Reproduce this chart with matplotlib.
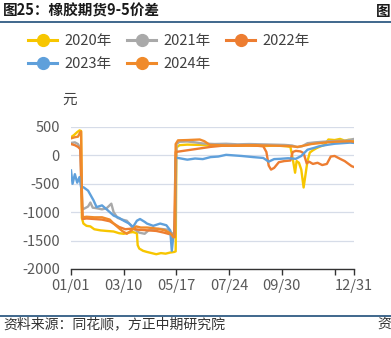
import matplotlib
matplotlib.use("Agg")
import matplotlib.pyplot as plt
from matplotlib.lines import Line2D

plt.rcParams["font.family"] = ["Noto Sans CJK SC", "DejaVu Sans"]
plt.rcParams["axes.unicode_minus"] = False

# ── 9-5 spread by day of year (day, 元) ───────────────────────────────
spread_2020 = [(0, 320), (4, 360), (8, 410), (11, 440), (13, 430), (14, -1100), (16, -1200),
               (20, -1240), (25, -1250), (30, -1300), (38, -1320), (46, -1330), (55, -1340),
               (62, -1370), (68, -1380), (74, -1360), (80, -1350), (85, -1370), (86, -1580),
               (88, -1640), (93, -1680), (98, -1700), (104, -1720), (110, -1740), (116, -1720),
               (122, -1730), (128, -1710), (133, -1700), (135, -1690), (136, 140), (140, 180),
               (150, 190), (166, 185), (180, 175), (205, 170), (230, 175), (250, 165), (265, 175),
               (278, 160), (283, 150), (286, -60), (289, -305), (291, -100), (294, -130),
               (297, -250), (300, -565), (302, -380), (305, -100), (308, 50), (312, 90),
               (317, 130), (322, 160), (327, 185), (332, 280), (340, 270), (347, 290),
               (353, 260), (358, 275), (365, 270)]

spread_2021 = [(0, 220), (5, 230), (9, 200), (12, 130), (14, -700), (15, -950), (18, -930),
               (22, -900), (25, -830), (28, -920), (33, -930), (40, -950), (46, -930),
               (52, -850), (55, -1000), (60, -1100), (66, -1130), (72, -1150), (80, -1280),
               (88, -1360), (95, -1380), (100, -1320), (106, -1300), (113, -1290), (120, -1300),
               (126, -1310), (130, -1370), (134, -1380), (136, 200), (140, 240), (150, 245),
               (160, 230), (170, 210), (185, 200), (200, 205), (215, 195), (230, 200), (245, 195),
               (260, 190), (275, 185), (285, 175), (292, 145), (298, 160), (305, 215), (315, 230),
               (325, 240), (335, 250), (345, 255), (355, 260), (365, 290)]

spread_2022 = [(0, 200), (5, 180), (9, 150), (12, 110), (14, -900), (15, -1120), (20, -1110),
               (30, -1120), (40, -1130), (50, -1160), (55, -1200), (62, -1260), (70, -1300),
               (78, -1290), (88, -1310), (100, -1320), (110, -1330), (120, -1360), (128, -1390),
               (133, -1410), (135, 60), (140, 70), (150, 90), (165, 120), (180, 150), (195, 170),
               (210, 170), (225, 175), (240, 170), (248, 160), (252, 60), (255, -180),
               (258, -250), (262, -220), (268, -120), (275, -100), (283, -90), (286, 60),
               (290, 80), (296, 70), (300, 40), (304, -140), (307, -110), (312, -150),
               (318, -130), (324, -170), (330, -150), (335, -20), (340, -10), (347, -60),
               (353, -100), (358, -150), (362, -190), (364, -200)]

spread_2023 = [(0, -265), (2, -500), (5, -330), (8, -480), (11, -380), (13, -560), (16, -560),
               (22, -620), (29, -790), (33, -910), (40, -880), (46, -950), (55, -1060),
               (62, -1100), (68, -1150), (75, -1200), (80, -1260), (85, -1150), (89, -1120),
               (95, -1170), (98, -1200), (106, -1240), (115, -1200), (123, -1230), (128, -1320),
               (130, -1680), (132, -1420), (134, -1400), (135, -40), (140, -50), (150, -75),
               (160, -55), (170, -65), (180, -30), (190, -20), (200, 10), (210, 0), (220, -10),
               (235, -30), (248, -45), (255, -110), (262, -65), (270, -60), (280, -50),
               (290, -60), (297, -10), (305, 100), (313, 130), (320, 160), (330, 185),
               (340, 205), (350, 215), (360, 225), (365, 220)]

spread_2024 = [(0, 300), (5, 320), (9, 330), (12, 410), (13, 420), (14, -600), (15, -1090),
               (20, -1080), (30, -1090), (40, -1090), (50, -1130), (55, -1200), (60, -1260),
               (66, -1330), (72, -1380), (78, -1320), (84, -1250), (90, -1270), (98, -1270),
               (106, -1280), (115, -1300), (121, -1320), (128, -1370), (132, -1440),
               (134, -1440), (135, 200), (138, 265), (150, 270), (166, 280), (172, 250),
               (179, 185), (190, 180), (205, 170), (220, 175), (235, 180), (248, 175),
               (265, 170), (280, 165), (292, 150), (300, 170), (310, 200), (320, 215),
               (330, 230), (340, 240), (350, 245), (360, 250), (365, 240)]

series = [
    ("2020年", spread_2020, "#F7C600"),
    ("2021年", spread_2021, "#A9A9A9"),
    ("2022年", spread_2022, "#ED7D31"),
    ("2023年", spread_2023, "#5FA0DB"),
    ("2024年", spread_2024, "#F08A2A"),
]

tick_days = [0, 68, 136, 204, 272, 340, 365]
tick_labels = ["01/01", "03/10", "05/17", "07/24", "09/30", "", "12/31"]
y_ticks = [-2000, -1500, -1000, -500, 0, 500]

W, H = 391, 338
fig = plt.figure(figsize=(W / 100, H / 100), dpi=100)

ax = fig.add_axes([71 / W, 1 - 269 / H, (354 - 71) / W, (269 - 127) / H])
for name, pts, col in series:
    d = [p[0] for p in pts]
    v = [p[1] for p in pts]
    ax.plot(d, v, color=col, lw=1.7, solid_joinstyle="round")

ax.set_xlim(0, 365)
ax.set_ylim(-2000, 500)
ax.set_xticks(tick_days)
ax.set_xticklabels(tick_labels)
ax.set_yticks(y_ticks)
ax.grid(axis="y", color="#D6DCE8", lw=0.9)
ax.set_axisbelow(True)
for s in ["top", "right", "left"]:
    ax.spines[s].set_visible(False)
ax.spines["bottom"].set_color("#333333")
ax.spines["bottom"].set_linewidth(1.0)
ax.tick_params(axis="x", direction="out", length=4, width=1, color="#333333",
               labelsize=10.5, labelcolor="#595959", pad=3)
ax.tick_params(axis="y", length=0, labelsize=10.5, labelcolor="#595959", pad=8)

# legend fills column by column, so order entries to read row by row
order = [0, 3, 1, 4, 2]
handles = [Line2D([], [], color=series[i][2], lw=2.2, marker="o", markersize=8.5) for i in order]
labels = [series[i][0] for i in order]
fig.legend(handles, labels, ncol=3, loc="upper left",
           bbox_to_anchor=(28 / W, 1 - 34 / H), frameon=False, fontsize=10.5,
           handlelength=2.0, handletextpad=0.5, columnspacing=1.05, labelspacing=0.6,
           borderpad=0, borderaxespad=0, labelcolor="#404040")

fig.text(70 / W, 1 - 100 / H, "元", ha="center", va="center", fontsize=10.5, color="#404040")

# header and footer
fig.text(3 / W, 1 - 11 / H, "图25：橡胶期货9-5价差", ha="left", va="center",
         fontsize=10.5, fontweight="bold", color="#1a1a1a")
fig.text(376 / W, 1 - 11 / H, "图", ha="left", va="center",
         fontsize=10.5, fontweight="bold", color="#1a1a1a")
fig.add_artist(Line2D([0, 1], [1 - 21.5 / H, 1 - 21.5 / H], color="#1F4E79", lw=1.2,
                      transform=fig.transFigure))
fig.add_artist(Line2D([0, 1], [1 - 315.5 / H, 1 - 315.5 / H], color="#1F4E79", lw=1.2,
                      transform=fig.transFigure))
fig.text(3 / W, 1 - 324 / H, "资料来源：同花顺，方正中期研究院", ha="left", va="center",
         fontsize=10, style="italic", color="#333333")
fig.text(377 / W, 1 - 324 / H, "资", ha="left", va="center",
         fontsize=10, style="italic", color="#333333")

fig.savefig("out.png", dpi=100)
